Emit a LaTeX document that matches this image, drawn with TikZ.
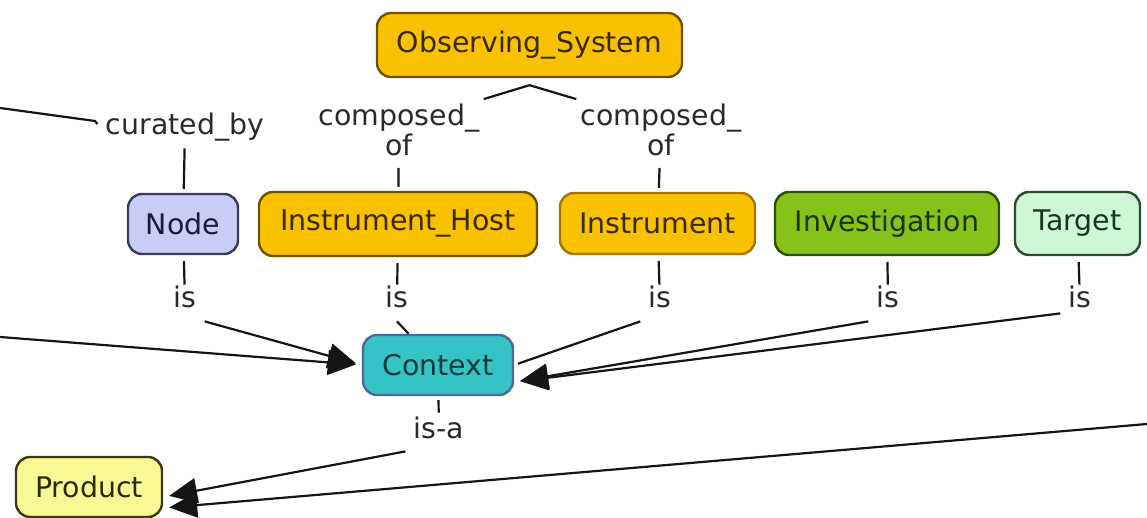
\documentclass[tikz,border=0pt]{standalone}
\usepackage{fontspec}
\setmainfont{DejaVu Sans}
\usetikzlibrary{arrows.meta}

% concept fills, borders and text colours
\definecolor{gold}{HTML}{F9C200}
\definecolor{goldb}{HTML}{6E5000}
\definecolor{goldt}{HTML}{3A2800}
\definecolor{instrb}{HTML}{A87400}
\definecolor{lav}{HTML}{C9CCF7}
\definecolor{lavb}{HTML}{3A3A5A}
\definecolor{lavt}{HTML}{1A1A40}
\definecolor{grn}{HTML}{86C21A}
\definecolor{grnb}{HTML}{2E4D06}
\definecolor{grnt}{HTML}{1A3300}
\definecolor{mint}{HTML}{CDF7D5}
\definecolor{mintb}{HTML}{2E4A36}
\definecolor{mintt}{HTML}{1A3322}
\definecolor{teal}{HTML}{36C3C6}
\definecolor{tealb}{HTML}{4A6A9A}
\definecolor{tealt}{HTML}{0A3A3A}
\definecolor{yel}{HTML}{F8F894}
\definecolor{yelb}{HTML}{3A3A10}
\definecolor{yelt}{HTML}{2A2A00}
\definecolor{labelc}{HTML}{2A2A2A}
\definecolor{linec}{HTML}{151515}

\begin{document}
\begin{tikzpicture}[x=0.5pt,y=-0.5pt,
  font=\fontsize{14.2}{15}\selectfont,
  concept/.style={draw, rounded corners=7pt, line width=1.2pt, inner sep=0pt, align=center},
  lbl/.style={inner sep=4pt, text=labelc, text height=0.75em, text depth=0.25em},
  lbltwo/.style={inner sep=2pt, text=labelc, align=center},
  link/.style={draw=linec, line width=1.1pt},
  arr/.style={link, -{Triangle[length=14pt,width=12.5pt]}, shorten >=3pt}]

\useasboundingbox (0,0) rectangle (1147,518);

% concepts
\node[concept, fill=gold, draw=goldb, text=goldt, minimum width=152.5pt, minimum height=32pt] (os) at (529.5,45) {Observing\_System};
\node[concept, fill=lav, draw=lavb, text=lavt, minimum width=55pt, minimum height=30pt] (node) at (183,224) {Node};
\node[concept, fill=gold, draw=goldb, text=goldt, minimum width=139pt, minimum height=32pt] (ih) at (398,224) {Instrument\_Host};
\node[concept, fill=gold, draw=instrb, text=goldt, minimum width=97.5pt, minimum height=30.5pt] (instr) at (657.5,223.5) {Instrument};
\node[concept, fill=grn, draw=grnb, text=grnt, minimum width=112pt, minimum height=31.5pt] (inv) at (887,223.5) {Investigation};
\node[concept, fill=mint, draw=mintb, text=mintt, minimum width=62.5pt, minimum height=31.5pt] (tgt) at (1077.5,223.5) {Target};
\node[concept, fill=teal, draw=tealb, text=tealt, minimum width=75pt, minimum height=30pt] (ctx) at (438,365) {Context};
\node[concept, fill=yel, draw=yelb, text=yelt, minimum width=73pt, minimum height=30pt] (prod) at (89,487) {Product};

% linking phrases
\node[lbl] (cur) at (185,130) {curated\_by};
\node[lbltwo] (co1) at (399,129.5) {composed\_\\of};
\node[lbltwo] (co2) at (661,129.5) {composed\_\\of};
\node[lbl] (is1) at (185,303) {is};
\node[lbl] (is2) at (397,303) {is};
\node[lbl] (is3) at (660,303) {is};
\node[lbl] (is4) at (888,303) {is};
\node[lbl] (is5) at (1080,303) {is};
\node[lbl] (isa) at (439,433) {is-a};

% loose ends of links leaving the frame
\coordinate (L1) at (0,108);
\coordinate (L2) at (0,337);
\coordinate (R1) at (1147,424);

% curated_by
\draw[link] (L1) -- ++(95,13) -- ([yshift=3pt]cur.west);
\draw[link, shorten >=2pt] (cur) -- (node);

% composed_of
\draw[link] (co1.north east) -- ([yshift=-3.5pt]os.south) -- (co2.north west);
\draw[link, shorten <=4pt, shorten >=2pt] (co1) -- (ih);
\draw[link, shorten <=4pt, shorten >=2pt] (co2) -- (instr);

% is
\draw[link, shorten <=3pt] (node) -- (is1);
\draw[arr] (is1.south east) -- (ctx.west);
\draw[arr] (L2) -- (ctx.west);
\draw[link, shorten <=3pt] (ih) -- (is2);
\draw[link] (is2.south) -- (ctx);
\draw[link, shorten <=3pt] (instr) -- (is3);
\draw[link, shorten >=2pt] (is3.south west) -- (ctx.east);
\draw[link, shorten <=3pt] (inv) -- (is4);
\draw[arr] (is4.south west) -- ([yshift=-8.5pt]ctx.east);
\draw[link, shorten <=3pt] (tgt) -- (is5);
\draw[arr] ([yshift=4pt]is5.south west) -- ([yshift=-8.5pt]ctx.east);

% is-a
\draw[link, shorten <=2pt, shorten >=1pt] (ctx) -- (isa);
\draw[arr] (isa.south west) -- ([yshift=-5pt]prod.east);
\draw[arr] (R1) -- ([yshift=-10.5pt]prod.east);
\end{tikzpicture}
\end{document}
